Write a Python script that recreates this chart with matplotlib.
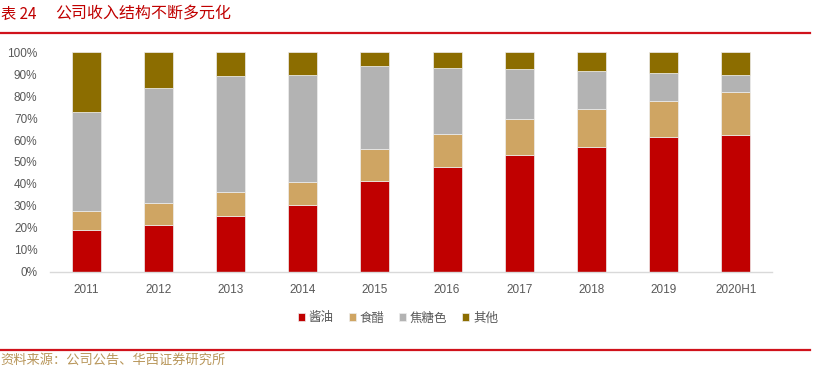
import matplotlib.pyplot as plt
import numpy as np

plt.rcParams['font.family'] = ['Liberation Sans', 'Noto Sans CJK SC', 'DejaVu Sans']

years = ['2011', '2012', '2013', '2014', '2015', '2016', '2017', '2018', '2019', '2020H1']
soy_sauce = [18.8, 21.4, 25.2, 30.2, 41.2, 47.9, 53.3, 57.0, 61.6, 62.2]
vinegar = [9.0, 10.0, 11.2, 10.9, 14.6, 15.0, 16.1, 17.0, 16.3, 19.9]
caramel = [45.0, 52.4, 52.6, 48.5, 38.1, 29.8, 23.1, 17.3, 12.5, 7.4]
others = [27.2, 16.2, 11.0, 10.4, 6.1, 7.3, 7.5, 8.7, 9.6, 10.5]

series_names = ['酱油', '食醋', '焦糖色', '其他']
series_colors = ['#C00000', '#CFA563', '#B3B3B3', '#8C6D00']

W, H = 823, 379
fig = plt.figure(figsize=(W / 100, H / 100), dpi=100)
ax = fig.add_axes([50 / W, 1 - 271.7 / H, 722 / W, 219.4 / H])

x = np.arange(len(years))
bottom = np.zeros(len(years))
handles = []
for vals, name, col in zip([soy_sauce, vinegar, caramel, others], series_names, series_colors):
    v = np.array(vals) / 100
    b = ax.bar(x, v, 0.4, bottom=bottom, color=col, edgecolor='#eeeeee',
               linewidth=0.5, label=name)
    bottom += v
    handles.append(b)

ax.set_xlim(-0.5, len(years) - 0.5)
ax.set_ylim(0, 1)
ax.set_yticks(np.linspace(0, 1, 11))
ax.set_yticklabels([f'{i}%' for i in range(0, 101, 10)])
ax.set_xticks(x)
ax.set_xticklabels(years)
ax.tick_params(axis='both', length=0, labelsize=8.5, labelcolor='#595959')
ax.tick_params(axis='y', pad=9)
ax.tick_params(axis='x', pad=9)
for s in ['top', 'right', 'left']:
    ax.spines[s].set_visible(False)
ax.spines['bottom'].set_color('#D9D9D9')
ax.spines['bottom'].set_linewidth(1)

leg = fig.legend(handles=handles, labels=series_names, loc='center',
                 bbox_to_anchor=(398 / W, 1 - 318 / H), ncol=4, frameon=False,
                 handlelength=0.55, handleheight=0.55, handletextpad=0.3,
                 columnspacing=1.2,
                 prop={'family': ['Noto Sans CJK SC'], 'size': 9})
for t in leg.get_texts():
    t.set_color('#595959')

# title and rules
fig.text(1 / W, 1 - 14 / H, '表 24', ha='left', va='center', color='#C00000',
         fontsize=11, family=['Noto Sans CJK SC'])
fig.text(55 / W, 1 - 14 / H, '公司收入结构不断多元化', ha='left', va='center',
         color='#C00000', fontsize=11.5, family=['Noto Sans CJK SC'])
fig.add_artist(plt.Line2D([0, 810 / W], [1 - 33 / H, 1 - 33 / H], color='#D0121B',
                          linewidth=1.6))
fig.add_artist(plt.Line2D([0, 810 / W], [1 - 349.5 / H, 1 - 349.5 / H], color='#D0121B',
                          linewidth=1.6))
fig.text(226 / W, 1 - 360 / H, '资料来源：公司公告、华西证券研究所', ha='right', va='center',
         color='#B8965A', fontsize=9.5, family=['Noto Sans CJK SC'])

fig.savefig('out.png', dpi=100)
